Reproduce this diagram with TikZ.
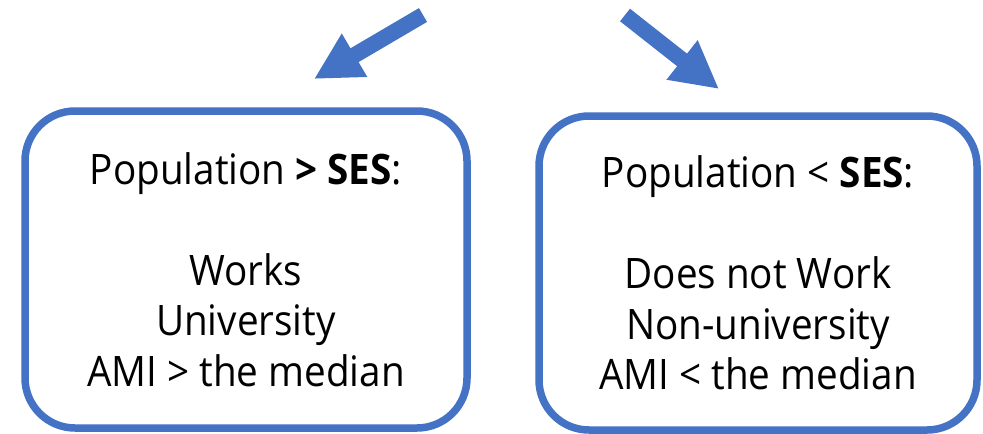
\documentclass[tikz,border=0pt]{standalone}
\usepackage{fontspec}
\setmainfont{Open Sans}[FakeStretch=0.92]
\definecolor{main}{RGB}{68,114,196}
\usetikzlibrary{
	arrows.meta,
	positioning
}
\tikzset{
  % arrow
	sesarrow/.style    ={-{Triangle[length=23.5pt,width=23.5pt]}, line width=8pt, draw=main},
  % node
	sesbox/.style      ={fill=white,draw=main,text=black,rounded corners=25pt,line width=3.75pt,
		align=center,inner sep=0pt,font=\fontsize{21}{25.3}\selectfont}
}

\begin{document}
\begin{tikzpicture}[x=0.5pt,y=-0.5pt]
			\useasboundingbox (0,0) rectangle (983,433);
			\node[sesbox,minimum width=221pt,minimum height=158.5pt] (above) at (246,269.5)
				{Population \textbf{> SES}:\\[25.3pt]Works\\University\\AMI > the median};
			\node[sesbox,minimum width=219pt,minimum height=157pt] (below) at (758,273)
				{Population < \textbf{SES}:\\[25.3pt]Does not Work\\Non-university\\AMI < the median};
			% arrows
			\coordinate (abovetail) at (423,15);
			\coordinate (abovetip) at (314,79);
			\coordinate (belowtail) at (625,15);
			\coordinate (belowtip) at (719,89);
			\draw[sesarrow] (abovetail) -- (abovetip);
			\draw[sesarrow] (belowtail) -- (belowtip);
		\end{tikzpicture}
\end{document}
